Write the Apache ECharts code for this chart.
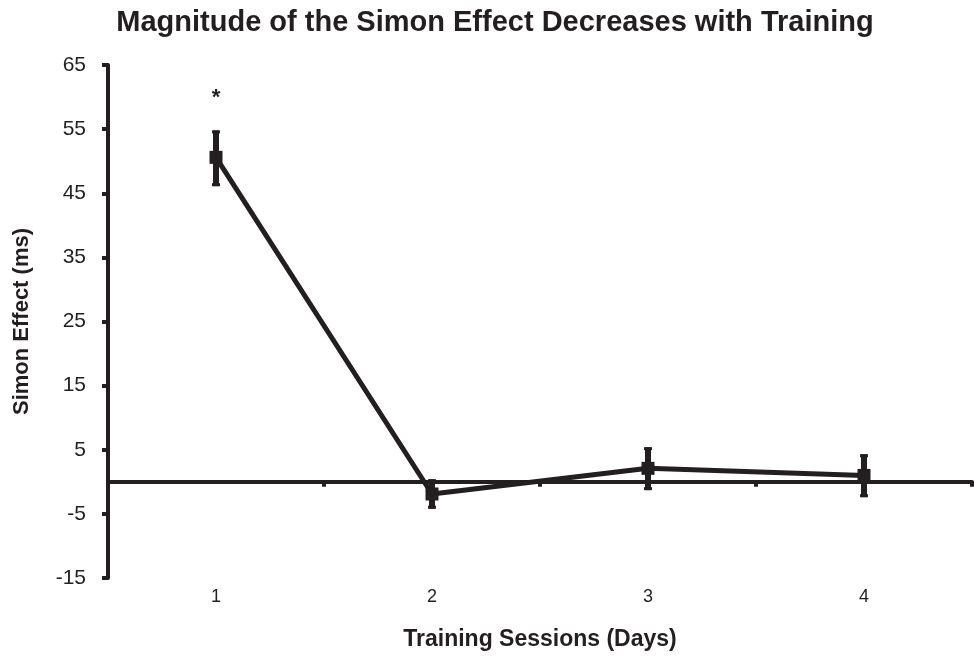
<!DOCTYPE html>
<html>
<head>
<meta charset="utf-8">
<script src="https://cdn.jsdelivr.net/npm/echarts@6/dist/echarts.min.js"></script>
<style>
  html, body { margin: 0; padding: 0; background: #fff; }
  #chart { width: 974px; height: 657px; }
</style>
</head>
<body>
<div id="chart"></div>
<script>
// data
var days = ["1", "2", "3", "4"];
var simonEffect = [50.6, -1.9, 2.1, 1.0];
var errLow = [46.1, -4.2, -1.3, -2.4];
var errHigh = [54.8, 0.4, 5.4, 4.3];
var sigMarks = ["*", "", "", ""];
var yTicks = { min: -15, max: 65, step: 10 };

var ink = "#231f20";
var font = "Liberation Sans, Arial, sans-serif";

var chart = echarts.init(document.getElementById("chart"));

var errData = days.map(function (d, i) {
  return [i, errLow[i], errHigh[i], sigMarks[i]];
});

var option = {
  backgroundColor: "#fff",
  animation: false,
  title: {
    text: "Magnitude of the Simon Effect Decreases with Training",
    left: 490,
    top: 3,
    textAlign: "center",
    textStyle: { fontFamily: font, fontWeight: "bold", fontSize: 29, color: ink }
  },
  grid: {
    left: 108,
    right: 2,
    top: 65,
    bottom: 79,
    containLabel: false,
    outerBoundsMode: "none"
  },
  xAxis: [
    {
      type: "category",
      data: days,
      boundaryGap: true,
      axisLine: { onZero: true, lineStyle: { color: ink, width: 4 } },
      axisTick: { show: true, length: 5, lineStyle: { color: ink, width: 4 } },
      axisLabel: { show: false },
      splitLine: { show: false }
    },
    {
      type: "category",
      data: days,
      position: "bottom",
      boundaryGap: true,
      axisLine: { show: false, onZero: false },
      axisTick: { show: false },
      axisLabel: { margin: 10, fontFamily: font, fontSize: 18, color: ink },
      name: "Training Sessions (Days)",
      nameLocation: "middle",
      nameGap: 50,
      nameTextStyle: { fontFamily: font, fontWeight: "bold", fontSize: 23, color: ink }
    }
  ],
  yAxis: {
    type: "value",
    min: yTicks.min,
    max: yTicks.max,
    interval: yTicks.step,
    axisLine: { show: true, onZero: false, lineStyle: { color: ink, width: 4 } },
    axisTick: { show: true, length: 6, lineStyle: { color: ink, width: 4 } },
    axisLabel: { margin: 22, fontFamily: font, fontSize: 21, color: ink },
    splitLine: { show: false },
    name: "Simon Effect (ms)",
    nameLocation: "middle",
    nameGap: 75,
    nameTextStyle: { fontFamily: font, fontWeight: "bold", fontSize: 22, color: ink }
  },
  series: [
    {
      type: "custom",
      xAxisIndex: 0,
      z: 3,
      data: errData,
      renderItem: function (params, api) {
        var top = api.coord([api.value(0), api.value(2)]);
        var bot = api.coord([api.value(0), api.value(1)]);
        var w = 6;
        var children = [
          { type: "rect", shape: { x: top[0] - w / 2, y: top[1], width: w, height: bot[1] - top[1] }, style: { fill: ink } },
          { type: "rect", shape: { x: top[0] - 4, y: top[1], width: 8, height: 3 }, style: { fill: ink } },
          { type: "rect", shape: { x: bot[0] - 4, y: bot[1] - 3, width: 8, height: 3 }, style: { fill: ink } }
        ];
        var mark = api.value(3);
        if (mark) {
          children.push({
            type: "text",
            style: {
              text: mark, x: top[0], y: top[1] - 32,
              align: "center", verticalAlign: "middle",
              font: "bold 22px " + font, fill: ink
            }
          });
        }
        return { type: "group", children: children };
      }
    },
    {
      type: "line",
      xAxisIndex: 0,
      z: 4,
      data: simonEffect,
      symbol: "rect",
      symbolSize: 13,
      lineStyle: { color: ink, width: 5 },
      itemStyle: { color: ink }
    }
  ]
};

chart.setOption(option);
</script>
</body>
</html>
